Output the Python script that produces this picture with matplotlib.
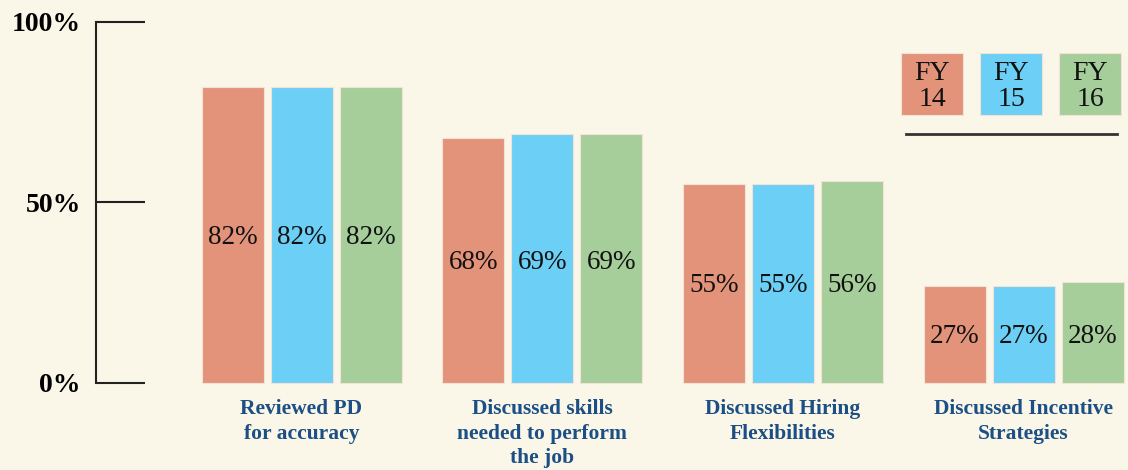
import numpy as np
import matplotlib.pyplot as plt

categories = ['Reviewed PD\nfor accuracy',
              'Discussed skills\nneeded to perform\nthe job',
              'Discussed Hiring\nFlexibilities',
              'Discussed Incentive\nStrategies']
years = ['FY\n14', 'FY\n15', 'FY\n16']
fy14 = [82, 68, 55, 27]
fy15 = [82, 69, 55, 27]
fy16 = [82, 69, 56, 28]
yticks = [0, 50, 100]
ytick_labels = ['0%', '50%', '100%']

colors = ['#E3937A', '#6CCFF6', '#A6CE9A']
bg = '#FAF7E8'
label_blue = '#1B4F85'

plt.rcParams['font.family'] = ['Liberation Serif', 'DejaVu Serif']

fig = plt.figure(figsize=(11.28, 4.70), dpi=100, facecolor=bg)
ax = fig.add_axes([0, 0, 1, 1])
ax.set_facecolor(bg)

# pixel-ish layout: group centres 240.7 px apart, first at x=301.5
gsp = 240.7
ax.set_xlim(-301.5 / gsp, (1128 - 301.5) / gsp)
ax.set_ylim(-87 / 3.61, 100 + 22 / 3.61)

x = np.arange(len(categories))
off = 69 / gsp
w = 62 / gsp
series = [fy14, fy15, fy16]
for i, vals in enumerate(series):
    bars = ax.bar(x + (i - 1) * off, vals, width=w, color=colors[i],
                  edgecolor='#F3E3D6', linewidth=0.8)
    # labels sit at the same height across a group (half the first bar)
    for b, v, v0 in zip(bars, vals, fy14):
        ax.text(b.get_x() + b.get_width() / 2, v0 / 2 - 0.6, '%d%%' % v,
                ha='center', va='center', fontsize=19.5, color='#111111')

# y axis drawn as bracket
ax_x = (96 - 301.5) / gsp
for s in ['top', 'right', 'bottom']:
    ax.spines[s].set_visible(False)
ax.spines['left'].set_position(('data', ax_x))
ax.spines['left'].set_bounds(0, 100)
ax.spines['left'].set_linewidth(1.5)
ax.spines['left'].set_color('#222222')
ax.set_yticks(yticks)
ax.set_yticklabels(ytick_labels, fontweight='bold', fontsize=20)
ax.tick_params(axis='y', direction='in', length=(145 - 96) * 0.72,
               width=1.5, color='#222222', pad=11)
ax.set_xticks([])

for xi, c in zip(x, categories):
    ax.text(xi, -4.4, c, ha='center', va='top', fontsize=15.5,
            fontweight='bold', color=label_blue, linespacing=1.32)

# legend boxes
lx = [(932 - 301.5) / gsp, (1011 - 301.5) / gsp, (1090 - 301.5) / gsp]
for xi, lab, col in zip(lx, years, colors):
    ax.bar(xi, 62 / 3.61, bottom=(383 - 115) / 3.61, width=62 / gsp,
           color=col, edgecolor='#F3E3D6', linewidth=0.8)
    ax.text(xi, (383 - 86.5) / 3.61, lab, ha='center', va='center',
            fontsize=20, color='#111111', linespacing=1.05)
ax.plot([(906 - 301.5) / gsp, (1117 - 301.5) / gsp],
        [(383 - 134) / 3.61] * 2, color='#333333', lw=2)

fig.savefig('out.png', dpi=100, facecolor=bg)
